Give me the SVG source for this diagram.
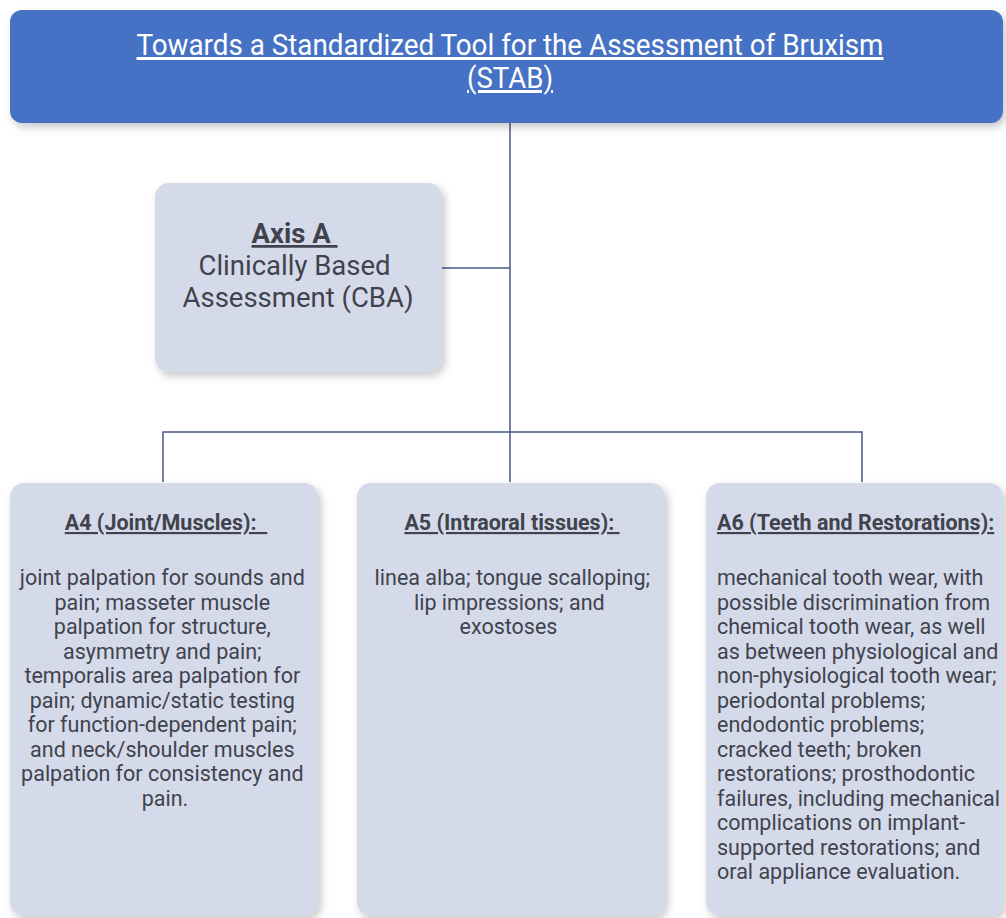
<svg xmlns="http://www.w3.org/2000/svg" width="1006" height="918" viewBox="0 0 1006 918">
  <defs>
    <filter id="shadow" x="-10%" y="-10%" width="125%" height="125%">
      <feDropShadow dx="3" dy="4" stdDeviation="4" flood-color="#000" flood-opacity="0.22"/>
    </filter>
  </defs>
  <style>
    .box { fill: #d5daeb; filter: url(#shadow); }
    .head { fill: #4472c4; filter: url(#shadow); }
    .link { stroke: #4a5a86; stroke-width: 1.5; fill: none; }
    .t { font-family: Roboto, "Liberation Sans", sans-serif; fill: #40434b; }
    .title { font-family: Roboto, "Liberation Sans", sans-serif; font-weight: 400; font-size: 30px; fill: #ffffff; text-decoration: underline; }
    .axis { font-size: 27.5px; }
    .hd { font-size: 21.5px; font-weight: 700; text-decoration: underline; }
    .body { font-size: 21.5px; }
  </style>

  <!-- connectors -->
  <g id="connectors">
    <path class="link" d="M510 123 V432"/>
    <path class="link" d="M442 268 H510"/>
    <path class="link" d="M163 482 V432 H862 V482"/>
    <path class="link" d="M510 432 V482"/>
  </g>

  <!-- root -->
  <g id="stab">
    <rect class="head" x="10" y="10" width="993" height="113" rx="12"/>
    <text class="title" x="510" y="55" text-anchor="middle" textLength="747" lengthAdjust="spacingAndGlyphs">Towards a Standardized Tool for the Assessment of Bruxism</text>
    <text class="title" x="510" y="88" text-anchor="middle" textLength="86" lengthAdjust="spacingAndGlyphs">(STAB)</text>
  </g>

  <!-- axis A -->
  <g id="axis-a">
    <rect class="box" x="155" y="183" width="287" height="189" rx="14"/>
    <text class="t axis" text-anchor="middle">
      <tspan x="298" y="243" font-weight="700" text-decoration="underline">Axis A&#160;</tspan>
      <tspan x="298" y="275">Clinically Based</tspan>
      <tspan x="298" y="307">Assessment (CBA)</tspan>
    </text>
  </g>

  <!-- A4 -->
  <g id="a4">
    <rect class="box" x="10" y="483" width="308" height="433" rx="14"/>
    <text class="t hd" x="166" y="530" text-anchor="middle">A4 (Joint/Muscles):&#160;&#160;</text>
    <text class="t body" text-anchor="middle">
      <tspan x="165" y="585">joint palpation for sounds and</tspan>
      <tspan x="165" y="609.5">pain; masseter muscle</tspan>
      <tspan x="165" y="634">palpation for structure,</tspan>
      <tspan x="165" y="658.5">asymmetry and pain;</tspan>
      <tspan x="165" y="683">temporalis area palpation for</tspan>
      <tspan x="165" y="707.5">pain; dynamic/static testing</tspan>
      <tspan x="165" y="732">for function-dependent pain;</tspan>
      <tspan x="165" y="756.5">and neck/shoulder muscles</tspan>
      <tspan x="165" y="781">palpation for consistency and</tspan>
      <tspan x="165" y="805.5">pain.</tspan>
    </text>
  </g>

  <!-- A5 -->
  <g id="a5">
    <rect class="box" x="357" y="483" width="308" height="433" rx="14"/>
    <text class="t hd" x="512" y="530" text-anchor="middle">A5 (Intraoral tissues):&#160;</text>
    <text class="t body" text-anchor="middle">
      <tspan x="515" y="585">linea alba; tongue scalloping;</tspan>
      <tspan x="512" y="609.5">lip impressions; and</tspan>
      <tspan x="508.5" y="634">exostoses</tspan>
    </text>
  </g>

  <!-- A6 -->
  <g id="a6">
    <rect class="box" x="706" y="483" width="297" height="433" rx="14"/>
    <text class="t hd" x="717" y="530">A6 (Teeth and Restorations):</text>
    <text class="t body">
      <tspan x="717" y="585">mechanical tooth wear, with</tspan>
      <tspan x="717" y="609.5">possible discrimination from</tspan>
      <tspan x="717" y="634">chemical tooth wear, as well</tspan>
      <tspan x="717" y="658.5">as between physiological and</tspan>
      <tspan x="717" y="683">non-physiological tooth wear;</tspan>
      <tspan x="717" y="707.5">periodontal problems;</tspan>
      <tspan x="717" y="732">endodontic problems;</tspan>
      <tspan x="717" y="756.5">cracked teeth; broken</tspan>
      <tspan x="717" y="781">restorations; prosthodontic</tspan>
      <tspan x="717" y="805.5">failures, including mechanical</tspan>
      <tspan x="717" y="830">complications on implant-</tspan>
      <tspan x="717" y="854.5">supported restorations; and</tspan>
      <tspan x="717" y="879">oral appliance evaluation.</tspan>
    </text>
  </g>
</svg>
